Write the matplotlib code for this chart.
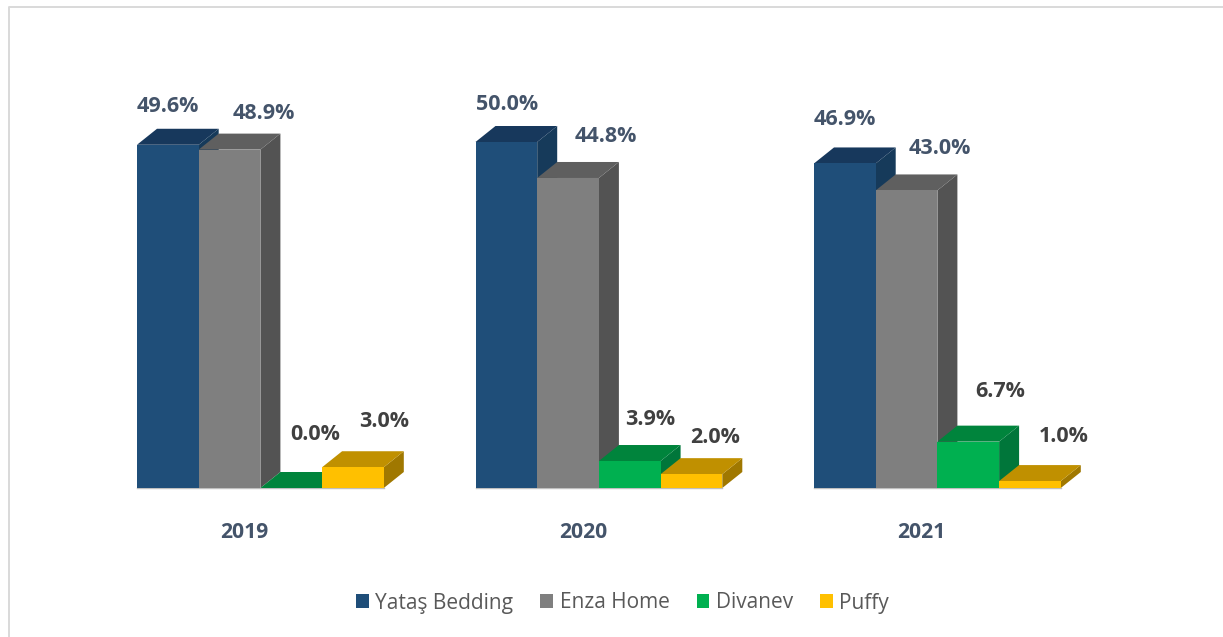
import matplotlib
matplotlib.use("Agg")
import matplotlib.pyplot as plt
from matplotlib.patches import Polygon, Rectangle, Patch

years = ["2019", "2020", "2021"]
series = ["Yataş Bedding", "Enza Home", "Divanev", "Puffy"]
yatas = [49.6, 50.0, 46.9]
enza = [48.9, 44.8, 43.0]
divanev = [0.0, 3.9, 6.7]
puffy = [3.0, 2.0, 1.0]

front = ["#1F4E79", "#7F7F7F", "#00B050", "#FFC000"]
top = ["#17385C", "#5F5F5F", "#00843C", "#C09000"]
side = ["#163A5A", "#535353", "#00763A", "#A07800"]
blue_grey = "#44546A"
dark_grey = "#404040"

# label offsets from the bar front centre/top, pixels
offsets = [
    [(0, 38), (34, 36), (24, 53), (31, 46)],
    [(1, 38), (38, 41), (20, 42), (24, 37)],
    [(0, 44), (33, 42), (32, 50), (34, 45)],
]
label_cols = [blue_grey, blue_grey, dark_grey, dark_grey]

plt.rcParams["font.family"] = ["Open Sans", "DejaVu Sans"]

fig = plt.figure(figsize=(12.23, 6.37), dpi=100)
ax = fig.add_axes([0, 0, 1, 1])
ax.axis("off")

# scale: one group step is 338.5 px, one percent is 6.92 px
px_x = 338.5
px_y = 6.92
ax.set_xlim(-260.4 / px_x, (1223 - 260.4) / px_x)
ax.set_ylim((488 - 637) / px_y, 488 / px_y)

w = 61.7 / px_x
dx = 20 / px_x
dy = 16 / px_y

# only the top and left of the chart frame are in the crop
fig.add_artist(plt.Line2D([8.5 / 1223, 8.5 / 1223, 1],
                          [0, 1 - 6.5 / 637, 1 - 6.5 / 637],
                          color="#D9D9D9", lw=1.4, transform=fig.transFigure))

values = [yatas, enza, divanev, puffy]
for g in range(len(years)):
    ax.plot([g - 2 * w, g + 2 * w], [0, 0], color="#BFBFBF", lw=1, zorder=1)
    for s in range(len(series)):
        v = values[s][g]
        x0 = g - 2 * w + s * w
        x1 = x0 + w
        z = 2 + s
        ax.add_patch(Polygon([(x1, 0), (x1 + dx, dy), (x1 + dx, v + dy), (x1, v)],
                             fc=side[s], ec="none", zorder=z))
        ax.add_patch(Polygon([(x0, v), (x0 + dx, v + dy), (x1 + dx, v + dy), (x1, v)],
                             fc=top[s], ec="none", zorder=z))
        ax.add_patch(Rectangle((x0, 0), w, v, fc=front[s], ec="none", zorder=z))
        off = offsets[g][s]
        ax.annotate("%.1f%%" % v, xy=(x0 + w / 2, v),
                    xytext=(off[0] * 0.72, off[1] * 0.72), textcoords="offset points",
                    ha="center", va="center", fontsize=15.5, fontweight="bold",
                    color=label_cols[s], zorder=10)
    ax.text(g - 0.047, -45 / px_y, years[g], ha="center", va="center",
            fontsize=15.2, fontweight="bold", color=blue_grey)

handles = [Patch(fc=front[i], ec="none", label=series[i]) for i in range(4)]
ax.legend(handles=handles, loc="center", bbox_to_anchor=(622.5 / 1223, 1 - 603 / 637),
          bbox_transform=fig.transFigure, ncol=4, frameon=False, fontsize=15,
          labelcolor="#595959", handlelength=0.62, handleheight=0.62,
          handletextpad=0.3, columnspacing=1.3, borderpad=0)

fig.savefig("out.png", dpi=100)
